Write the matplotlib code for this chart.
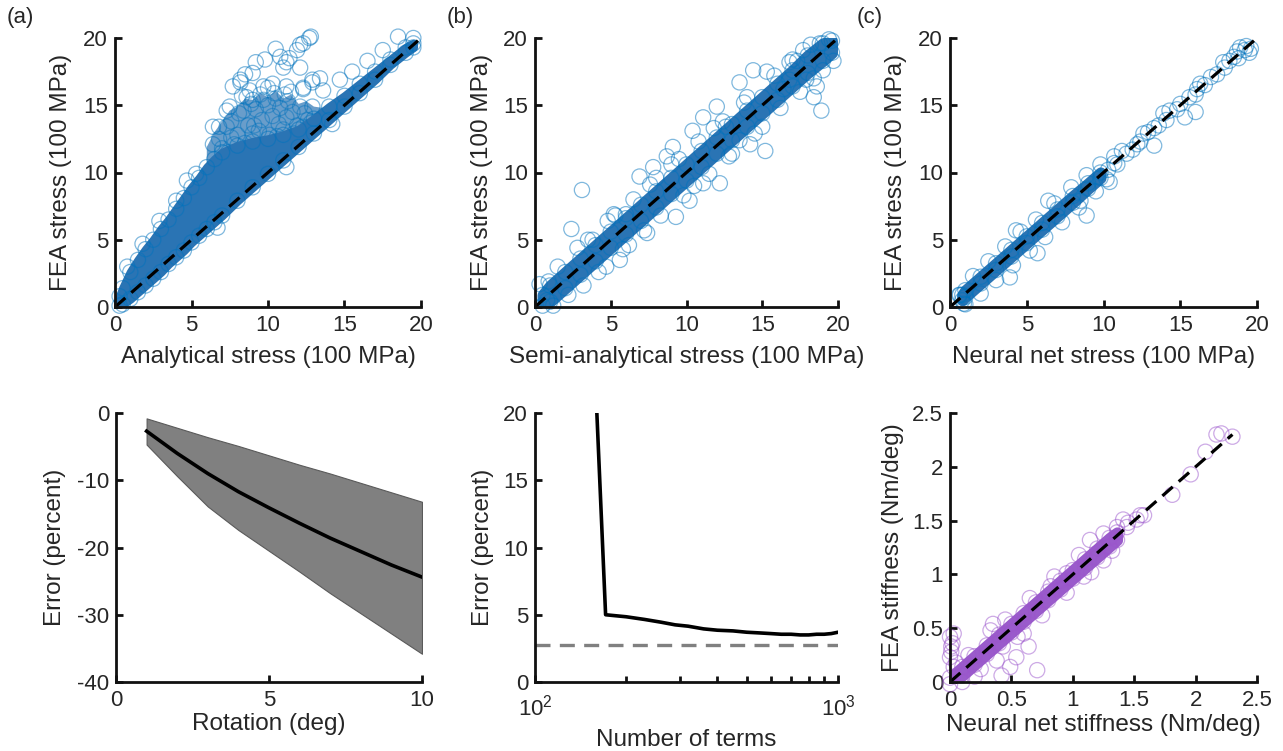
import numpy as np
import matplotlib
matplotlib.use("Agg")
import matplotlib.pyplot as plt

plt.rcParams['font.family'] = ['Liberation Sans', 'DejaVu Sans']
plt.rcParams['mathtext.fontset'] = 'custom'
plt.rcParams['mathtext.rm'] = 'Liberation Sans'
plt.rcParams['mathtext.it'] = 'Liberation Sans'
plt.rcParams['axes.unicode_minus'] = False

# ---------------- data ----------------
# (a) analytical vs FEA stress: dense core envelope (circle centres)
a_x = [0.3, 0.5, 1, 1.5, 2, 2.5, 3, 3.5, 4, 4.5, 5, 5.5, 6, 6.5, 7, 8, 9, 10, 11, 12, 13, 14, 15, 16, 17, 18, 19, 19.5]
a_lo = [0.1, 0.2, 0.6, 1.1, 1.6, 2.1, 2.6, 3.2, 3.7, 4.2, 4.8, 5.3, 5.8, 6.3, 6.8, 7.9, 8.9, 9.9, 10.9, 11.9, 12.9, 13.9, 14.9, 15.9, 16.9, 18.0, 18.9, 19.3]
a_hi = [0.8, 1.4, 2.6, 3.5, 4.3, 5.0, 5.8, 6.5, 7.3, 8.1, 8.9, 9.6, 10.4, 11.0, 11.5, 12.0, 12.3, 12.5, 12.8, 13.2, 14.0, 14.9, 15.7, 16.6, 17.5, 18.4, 19.3, 19.6]
# (a) semi-dense "finger"
a_mx = [6.0, 6.5, 7, 7.5, 8, 8.5, 9, 9.5, 10, 10.5, 11, 11.5, 12, 12.5, 13, 13.6]
a_mlo = [10.4, 11.0, 11.5, 11.8, 12.0, 12.2, 12.3, 12.4, 12.5, 12.6, 12.8, 13.0, 13.2, 13.6, 14.0, 14.5]
a_mhi = [11.9, 13.0, 13.8, 14.6, 14.9, 15.5, 15.4, 15.9, 15.6, 16.1, 15.5, 15.8, 15.1, 15.3, 14.9, 14.8]
a_fx = [6.8, 7.3, 7.6, 8.1, 8.4, 8.9, 9.2, 9.7, 10.0, 10.5, 10.8, 11.3, 11.6, 12.1, 12.4,
        7.0, 7.6, 8.0, 8.7, 9.1, 9.6, 10.3, 10.7, 11.2, 11.9, 12.6,
        7.4, 7.8, 8.5, 9.0, 9.4, 10.1, 10.6, 11.0, 11.7, 12.3, 12.8,
        8.3, 8.8, 9.5, 10.0, 10.4, 11.1, 11.5]
a_fy = [12.5, 13.4, 13.8, 14.4, 14.6, 15.1, 14.7, 15.4, 15.0, 15.5, 14.8, 15.3, 14.5, 14.9, 14.4,
        11.8, 12.6, 12.8, 13.5, 13.5, 13.9, 14.2, 13.6, 14.1, 13.5, 13.9,
        11.5, 12.1, 12.2, 12.9, 13.1, 12.8, 12.7, 13.2, 12.9, 13.4, 13.7,
        15.7, 16.1, 15.8, 16.3, 15.9, 15.8, 16.0]
# (a) outliers
a_ox = [12.8, 12.1, 11.4, 10.5, 9.2, 8.2, 7.7, 8.5, 9.7, 11.2, 12.1, 12.9, 12.3, 6.8, 6.4, 7.3, 9.0, 10.3, 11.0,
        18.5, 19.5, 16.5, 17.5, 15.5, 14.7, 13.4, 12.9, 11.2, 6.7, 14.2, 12.7, 12.3, 11.9, 9.8, 10.8, 11.2,
        8.2, 9.0, 12.9, 12.3, 13.6, 6.4, 7.5, 8.6, 4.0, 2.9, 1.8, 0.8, 5.3, 4.7]
a_oy = [20.1, 19.5, 18.5, 19.2, 18.2, 16.9, 16.4, 17.3, 16.4, 16.4, 17.8, 16.7, 16.2, 13.4, 12.1, 14.6, 15.4, 16.6, 17.8,
        20.1, 20.0, 18.3, 19.1, 17.5, 16.9, 17.0, 14.9, 10.4, 5.9, 13.6, 20.0, 19.6, 19.1, 18.4, 18.6, 18.2,
        16.7, 17.4, 16.9, 16.3, 16.1, 13.4, 14.9, 15.6, 7.9, 6.4, 4.7, 3.0, 9.9, 9.4]

# (b) semi-analytical vs FEA stress
b_x = [0.5, 1, 2, 3, 4, 5, 6, 7, 8, 9, 10, 11, 12, 13, 14, 15, 16, 17, 18, 19, 19.6]
b_lo = [0.1, 0.4, 1.4, 2.4, 3.4, 4.4, 5.4, 6.4, 7.4, 8.4, 9.4, 10.4, 11.4, 12.4, 13.4, 14.4, 15.4, 16.4, 17.4, 18.3, 18.9]
b_hi = [0.9, 1.6, 2.6, 3.6, 4.6, 5.6, 6.6, 7.6, 8.6, 9.6, 10.6, 11.6, 12.6, 13.6, 14.6, 15.6, 16.6, 17.6, 18.7, 19.6, 19.8]
b_ox = [3.1, 2.4, 0.3, 7.4, 6.9, 8.7, 10.4, 12.0, 11.1, 15.2, 13.5, 14.4, 15.3, 18.4, 18.9, 19.7, 16.4, 14.2, 13.5,
        12.2, 11.1, 10.2, 9.3, 4.7, 5.6, 6.0, 5.2, 3.8, 7.8, 9.1, 12.6, 17.7, 17.3, 18.8, 16.8, 17.9, 18.6, 0.8,
        1.5, 2.2, 3.5, 4.2, 4.8, 5.8, 6.5, 7.2, 8.0, 8.3, 9.5, 9.8, 10.8, 11.5, 12.4, 13.0, 13.8, 14.5, 15.8, 16.2,
        17.0, 17.5, 18.2, 19.0, 19.4, 0.9, 1.2, 2.8, 3.2, 5.3, 6.2, 7.6, 9.0, 10.5, 11.8, 12.8, 14.0, 15.0, 16.8, 18.4]
b_oy = [8.7, 5.8, 1.7, 5.5, 9.7, 11.2, 13.1, 14.9, 14.1, 11.6, 16.7, 17.6, 17.5, 15.6, 14.6, 18.3, 16.2, 12.1, 12.4,
        9.2, 9.2, 7.9, 6.7, 3.0, 3.5, 6.9, 6.9, 5.0, 10.4, 11.9, 13.4, 19.1, 18.3, 19.6, 16.9, 16.9, 16.4, 0.5,
        3.0, 0.9, 5.0, 2.6, 6.4, 4.3, 8.0, 5.7, 9.6, 6.8, 11.0, 8.3, 12.3, 9.9, 13.8, 11.4, 15.2, 12.9, 17.2, 14.8,
        18.4, 16.0, 19.5, 17.6, 19.9, 1.9, 0.1, 4.4, 1.6, 6.8, 4.6, 9.1, 10.6, 9.0, 13.3, 11.2, 15.6, 13.4, 18.2, 17.0]

# (c) neural net vs FEA stress
c_x = [0.8, 1, 2, 3, 4, 5, 6, 7, 8, 9, 9.8]
c_lo = [0.5, 0.75, 1.75, 2.75, 3.75, 4.75, 5.75, 6.75, 7.75, 8.8, 9.6]
c_hi = [0.9, 1.25, 2.25, 3.25, 4.25, 5.25, 6.25, 7.25, 8.25, 9.2, 10.0]
c_ox = [6.4, 8.9, 5.7, 4.3, 3.9, 15.3, 16.0, 13.3, 10.7, 10.4, 8.5, 10.7, 11.5, 12.2, 12.6, 13.3, 13.9, 14.3,
        15.0, 16.1, 16.3, 17.0, 17.8, 18.5, 18.9, 19.2, 18.8, 19.6, 0.65, 0.9, 17.4,
        0.6, 1.0, 1.5, 2.0, 2.5, 3.0, 3.6, 4.1, 4.6, 5.2, 5.6, 6.2, 6.8, 7.3, 7.9, 8.4, 8.9, 9.5, 9.8, 10.2,
        10.3, 10.9, 11.2, 11.9, 12.4, 12.9, 13.6, 14.1, 14.8, 15.6, 16.0, 16.6, 17.9, 18.2, 18.7, 19.3, 19.5]
c_oy = [7.9, 6.8, 4.0, 5.7, 2.2, 14.1, 14.5, 12.0, 11.2, 9.3, 7.9, 10.7, 11.4, 12.1, 12.9, 13.3, 14.4, 14.6,
        15.1, 16.2, 16.6, 17.1, 18.2, 18.6, 19.3, 19.1, 18.5, 19.2, 0.9, 0.25, 17.3,
        0.9, 0.2, 2.3, 1.0, 3.4, 2.0, 4.5, 3.1, 5.6, 4.2, 6.5, 5.2, 7.7, 6.3, 8.9, 7.4, 9.8, 8.6, 10.6, 9.5,
        10.2, 10.6, 11.6, 11.7, 12.3, 13.0, 13.5, 13.9, 14.7, 15.6, 15.8, 16.5, 17.8, 18.3, 19.0, 19.4, 18.9]
ref_line = [0, 19.8]

# (a, bottom) rotation error
rot_deg = [1, 2, 3, 4, 5, 6, 7, 8, 9, 10]
rot_mean = [-2.7, -6.0, -9.0, -11.7, -14.1, -16.4, -18.6, -20.6, -22.6, -24.4]
rot_upper = [-0.8, -2.2, -3.6, -4.9, -6.3, -7.7, -9.0, -10.4, -11.8, -13.2]
rot_lower = [-4.7, -9.4, -13.9, -17.4, -20.5, -23.6, -26.8, -29.8, -32.8, -35.8]

# (b, bottom) error vs number of terms
n_terms = [160, 171, 180, 200, 230, 260, 290, 320, 360, 400, 450, 500, 550, 600, 650, 700, 750, 800, 850, 900, 950, 1000]
term_err = [20.0, 5.0, 4.95, 4.85, 4.65, 4.45, 4.25, 4.15, 3.95, 3.85, 3.8, 3.7, 3.65, 3.6, 3.55, 3.55, 3.5, 3.5, 3.55, 3.55, 3.6, 3.7]
err_floor = 2.73

# (c, bottom) stiffness
d_x = [0.0, 0.1, 0.2, 0.3, 0.4, 0.5, 0.6, 0.7, 0.8, 0.9, 1.0, 1.1, 1.2, 1.3, 1.36]
d_lo = [-0.02, 0.06, 0.16, 0.26, 0.36, 0.46, 0.56, 0.66, 0.76, 0.86, 0.96, 1.06, 1.16, 1.26, 1.32]
d_hi = [0.04, 0.14, 0.24, 0.34, 0.44, 0.54, 0.64, 0.74, 0.84, 0.94, 1.04, 1.14, 1.24, 1.34, 1.39]
d_ox = [2.21, 2.17, 2.30, 2.08, 1.96, 1.81, 1.58, 1.52, 1.44, 1.25, 1.09, 0.71, 0.64, 0.49, 0.42, 0.38, 0.35, 0.33,
        0.0, 0.01, 0.0, 0.03, 0.03, 0.43, 0.54, 0.60, 0.82, 0.95, 1.14, 1.36, 1.41, 0.02, 0.01,
        0.15, 0.25, 0.45, 0.55, 0.65, 0.75, 0.85, 0.95, 1.05, 1.15, 1.25, 1.32, 0.1, 0.2, 0.05, 1.45, 1.55]
d_oy = [2.31, 2.30, 2.28, 2.14, 1.93, 1.74, 1.55, 1.51, 1.44, 1.13, 0.98, 0.11, 0.33, 0.14, 0.06, 0.20, 0.54, 0.48,
        0.42, 0.33, 0.23, 0.14, 0.45, 0.33, 0.23, 0.45, 0.89, 1.01, 1.32, 1.44, 1.51, 0.36, 0.28,
        0.25, 0.12, 0.58, 0.42, 0.78, 0.62, 0.98, 0.83, 1.18, 1.02, 1.38, 1.22, 0.0, 0.05, 0.18, 1.48, 1.55]
stiff_ref = [0, 2.3]

# ---------------- styling ----------------
W, H = 1283, 751
TXT = '#262626'
BLUE = '#0072BD'
DENSE = '#2A74B4'
PURPLE = '#9B55CC'
DPURP = '#9A5BCB'
TICK_FS = 16
LAB_FS = 17.5

fig = plt.figure(figsize=(W / 100, H / 100), dpi=100)


def add_ax(l, r, t, b):
    return fig.add_axes([l / W, 1 - b / H, (r - l) / W, (b - t) / H])


def style(ax):
    for s in ('top', 'right'):
        ax.spines[s].set_visible(False)
    for s in ('left', 'bottom'):
        ax.spines[s].set_linewidth(2.0)
        ax.spines[s].set_color('#111111')
        ax.spines[s].set_zorder(6)
    ax.tick_params(which='both', direction='in', width=2.0, length=5, colors='#111111',
                   labelsize=TICK_FS, labelcolor=TXT)
    ax.tick_params(axis='x', pad=6)
    ax.tick_params(axis='y', pad=5)
    ax.patch.set_alpha(0)


def circles(ax, x, y, color, alpha=0.5, s=120, lw=0.9):
    ax.scatter(x, y, s=s, facecolors='none', edgecolors=color, linewidths=lw, alpha=alpha,
               clip_on=False, zorder=3)


def band(ax, x, lo, hi, color, grow=8.0, alpha=1.0, z=3):
    ax.fill_between(x, lo, hi, facecolor=color, edgecolor=color if grow > 0 else 'none',
                    lw=grow, alpha=alpha, joinstyle='round', zorder=z)


def stress_panel(ax, xlabel):
    ax.set_xlim(0, 20)
    ax.set_ylim(0, 20)
    ax.set_xticks([0, 5, 10, 15, 20])
    ax.set_yticks([0, 5, 10, 15, 20])
    ax.set_xlabel(xlabel, fontsize=LAB_FS, color=TXT)
    ax.set_ylabel('FEA stress (100 MPa)', fontsize=LAB_FS, color=TXT)
    ax.xaxis.set_label_coords(0.5, -0.145)
    ax.yaxis.set_label_coords(-0.14, 0.5)
    ax.plot(ref_line, ref_line, color='black', lw=2.3, linestyle=(0, (4.3, 2.5)), zorder=5,
            dash_capstyle='butt')
    style(ax)


# top (a)
ax = add_ax(115, 421, 38, 307)
band(ax, a_mx, a_mlo, a_mhi, DENSE, grow=0, alpha=0.7, z=2)
circles(ax, a_fx, a_fy, BLUE, alpha=0.45)
band(ax, a_x, a_lo, a_hi, DENSE, grow=6)
circles(ax, a_x, a_lo, BLUE, alpha=0.5)
circles(ax, a_x, a_hi, BLUE, alpha=0.5)
circles(ax, a_ox, a_oy, BLUE, alpha=0.5)
stress_panel(ax, 'Analytical stress (100 MPa)')

# top (b)
ax = add_ax(535, 838, 38, 307)
band(ax, b_x, b_lo, b_hi, DENSE, grow=8)
circles(ax, b_x, b_lo, BLUE, alpha=0.5)
circles(ax, b_x, b_hi, BLUE, alpha=0.5)
circles(ax, b_ox, b_oy, BLUE, alpha=0.5)
stress_panel(ax, 'Semi-analytical stress (100 MPa)')

# top (c)
ax = add_ax(950, 1257, 38, 307)
band(ax, c_x, c_lo, c_hi, DENSE, grow=8)
circles(ax, c_x, c_lo, BLUE, alpha=0.5)
circles(ax, c_x, c_hi, BLUE, alpha=0.5)
circles(ax, c_ox, c_oy, BLUE, alpha=0.5)
stress_panel(ax, 'Neural net stress (100 MPa)')

# bottom (a)
ax = add_ax(116, 422, 413, 682)
ax.fill_between(rot_deg, rot_lower, rot_upper, facecolor='#808080', edgecolor='#5a5a5a', lw=0.8, zorder=2)
ax.plot(rot_deg, rot_mean, color='black', lw=2.6, zorder=3)
ax.set_xlim(0, 10)
ax.set_ylim(-40, 0)
ax.set_xticks([0, 5, 10])
ax.set_yticks([-40, -30, -20, -10, 0])
ax.set_xlabel('Rotation (deg)', fontsize=LAB_FS, color=TXT)
ax.set_ylabel('Error (percent)', fontsize=LAB_FS, color=TXT)
ax.xaxis.set_label_coords(0.5, -0.115)
ax.yaxis.set_label_coords(-0.165, 0.5)
style(ax)

# bottom (b)
ax = add_ax(535, 838, 413, 682)
ax.set_xscale('log')
ax.plot(n_terms, term_err, color='black', lw=2.6, zorder=3)
ax.axhline(err_floor, color='#808080', lw=2.4, linestyle=(0, (4.5, 2.8)), zorder=2)
ax.set_xlim(100, 1000)
ax.set_ylim(0, 20)
ax.set_xticks([100, 1000])
ax.set_xticklabels([r'$10^2$', r'$10^3$'])
ax.set_xticks([200, 300, 400, 500, 600, 700, 800, 900], minor=True)
ax.xaxis.set_minor_formatter(matplotlib.ticker.NullFormatter())
ax.set_yticks([0, 5, 10, 15, 20])
ax.set_xlabel('Number of terms', fontsize=LAB_FS, color=TXT)
ax.set_ylabel('Error (percent)', fontsize=LAB_FS, color=TXT)
ax.xaxis.set_label_coords(0.5, -0.175)
ax.yaxis.set_label_coords(-0.135, 0.5)
style(ax)
ax.tick_params(axis='x', which='major', pad=9)
ax.tick_params(axis='x', which='minor', length=4)

# bottom (c)
ax = add_ax(950, 1257, 413, 682)
band(ax, d_x, d_lo, d_hi, DPURP, grow=8)
circles(ax, d_x, d_lo, PURPLE, alpha=0.5)
circles(ax, d_x, d_hi, PURPLE, alpha=0.5)
circles(ax, d_ox, d_oy, PURPLE, alpha=0.5)
ax.plot(stiff_ref, stiff_ref, color='black', lw=2.3, linestyle=(0, (4.3, 2.5)), zorder=5)
ax.set_xlim(0, 2.5)
ax.set_ylim(0, 2.5)
ticks = [0, 0.5, 1, 1.5, 2, 2.5]
ax.set_xticks(ticks)
ax.set_yticks(ticks)
ax.set_xticklabels(['0', '0.5', '1', '1.5', '2', '2.5'])
ax.set_yticklabels(['0', '0.5', '1', '1.5', '2', '2.5'])
ax.set_xlabel('Neural net stiffness (Nm/deg)', fontsize=LAB_FS, color=TXT)
ax.set_ylabel('FEA stiffness (Nm/deg)', fontsize=LAB_FS, color=TXT)
ax.xaxis.set_label_coords(0.5, -0.12)
ax.yaxis.set_label_coords(-0.15, 0.5)
style(ax)

# panel letters
for lab, xp in (('(a)', 20), ('(b)', 460), ('(c)', 870)):
    fig.text(xp / W, 1 - 18 / H, lab, fontsize=16, color=TXT, ha='center', va='center')

fig.savefig('out.png', dpi=100)
